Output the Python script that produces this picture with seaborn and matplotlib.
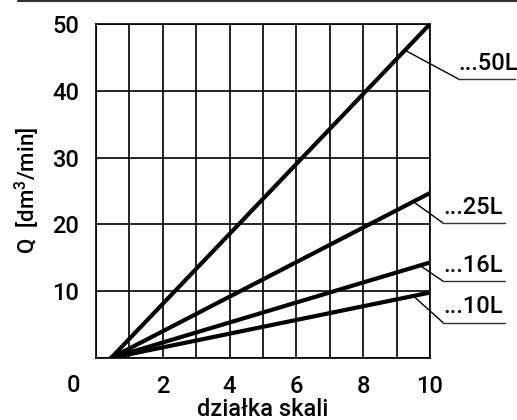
import numpy as np
import pandas as pd
import matplotlib
matplotlib.use("Agg")
import matplotlib.pyplot as plt
import seaborn as sns
from matplotlib.lines import Line2D

# ---- data ----
series = ["...50L", "...25L", "...16L", "...10L"]
x_points = [0.45, 10.0]
q_start = [0.0, 0.0, 0.0, 0.0]
q_end = [50.0, 24.7, 14.3, 9.8]
x_ticks = list(range(0, 11))
x_tick_labels = ["", "", "2", "", "4", "", "6", "", "8", "", "10"]
y_ticks = [0, 10, 20, 30, 40, 50]
y_tick_labels = ["", "10", "20", "30", "40", "50"]

rows = []
for s, q0, q1 in zip(series, q_start, q_end):
    rows.append({"series": s, "x": x_points[0], "Q": q0})
    rows.append({"series": s, "x": x_points[1], "Q": q1})
df = pd.DataFrame(rows)

sns.set_theme(style="white")
FONT = ["Roboto", "DejaVu Sans"]
plt.rcParams["font.family"] = FONT
plt.rcParams["font.weight"] = "medium"
plt.rcParams["mathtext.fontset"] = "custom"
plt.rcParams["mathtext.rm"] = "Roboto:medium"
plt.rcParams["mathtext.it"] = "Roboto:medium"
plt.rcParams["mathtext.bf"] = "Roboto:bold"

W, H = 517, 420
fig = plt.figure(figsize=(W / 100, H / 100), dpi=100)
ax = fig.add_axes([96 / W, 62 / H, 334 / W, 334 / H])

sns.lineplot(data=df, x="x", y="Q", hue="series", palette=["black"] * 4,
             linewidth=3.0, legend=False, ax=ax, estimator=None)

ax.set_xlim(0, 10)
ax.set_ylim(0, 50)
ax.set_xticks(x_ticks)
ax.set_xticklabels(x_tick_labels)
ax.set_yticks(y_ticks)
ax.set_yticklabels(y_tick_labels)
ax.grid(True, color="black", linewidth=1.2)
ax.set_axisbelow(True)
for sp in ax.spines.values():
    sp.set_visible(True)
    sp.set_color("black")
    sp.set_linewidth(1.2)
ax.tick_params(axis="both", length=0, labelsize=17, colors="black")
ax.tick_params(axis="x", pad=12)
ax.tick_params(axis="y", pad=12)
for lbl in ax.get_xticklabels() + ax.get_yticklabels():
    lbl.set_fontweight("medium")
ax.set_xlabel("")
ax.set_ylabel("")

# axis titles
fig.text(263 / W, 4 / H, "działka skali", fontsize=17, color="black",
         ha="center", va="baseline", fontweight="medium")
fig.text(27 / W, 1 - 190 / H, "Q  [dm$^3$/min]", fontsize=16, color="black",
         ha="center", va="center", rotation=90, fontweight="medium")

# origin label at lower-left
ax.text(-23 / 334, -27 / 334, "0", transform=ax.transAxes, fontsize=17,
        ha="center", va="center", color="black", fontweight="medium")

# leader lines and labels
label_x_on_line = [9.25, 9.5, 9.7, 9.5]
leader_end = [(10.84, 41.8), (10.39, 20.2), (10.39, 11.5), (10.39, 5.3)]
underline_end_x = [12.54, 12.25, 12.25, 12.25]
for s, q0, q1, xl, (ex, ey), ux in zip(series, q_start, q_end,
                                        label_x_on_line, leader_end, underline_end_x):
    yl = float(np.interp(xl, x_points, [q0, q1]))
    ax.plot([xl, ex], [yl, ey], color="black", lw=1.0, clip_on=False)
    ax.plot([ex, ux], [ey, ey], color="#333333", lw=1.0, clip_on=False)
    ax.annotate(s, xy=(ex, ey), xytext=(0, 3), textcoords="offset points",
                ha="left", va="bottom", fontsize=17, color="black",
                fontweight="medium", annotation_clip=False)

# top rule
fig.add_artist(Line2D([18 / W, 1.0], [1 - 0.8 / H, 1 - 0.8 / H],
                      color="#333333", lw=1.5, transform=fig.transFigure))

fig.savefig("out.png", dpi=100)
